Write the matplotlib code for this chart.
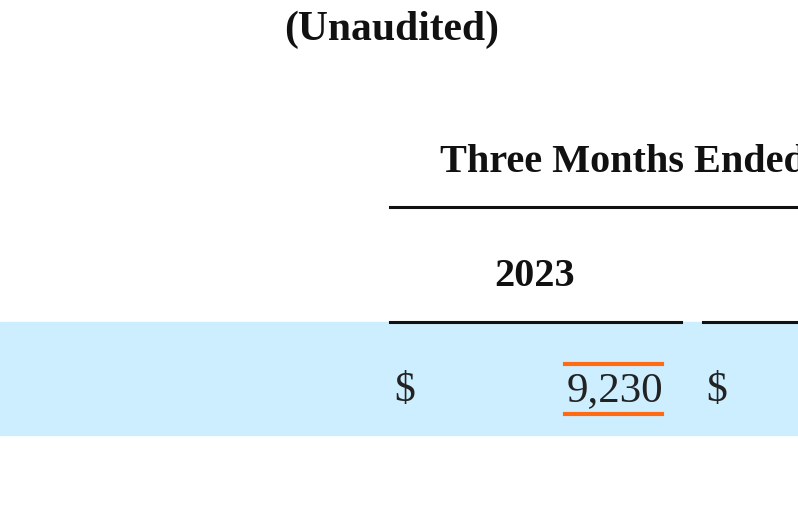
import matplotlib.pyplot as plt

title = "(Unaudited)"
period = "Three Months Ended"
years = ["2023"]
values = ["9,230"]

fig = plt.figure(figsize=(7.98, 5.25), dpi=100)
ax = fig.add_axes([0, 0, 1, 1])
ax.set_xlim(0, 798)
ax.set_ylim(525, 0)
ax.axis("off")

serif = ["Liberation Serif", "DejaVu Serif"]

# blue highlight row
ax.axhspan(322, 435, color="#cdeeff", zorder=0)

ax.text(392, 30, title, ha="center", va="center", fontsize=30, fontweight="bold", family=serif, color="#111111")
ax.text(440, 162, period, ha="left", va="center", fontsize=29, fontweight="bold", family=serif, color="#111111")
ax.plot([390, 798], [207, 207], color="#111111", lw=2.2)

ax.text(535, 277, years[0], ha="center", va="center", fontsize=29, fontweight="bold", family=serif, color="#111111")
ax.plot([390, 681], [322, 322], color="#111111", lw=2.2)
ax.plot([703, 798], [322, 322], color="#111111", lw=2.2)

ax.text(405, 391, "$", ha="center", va="center", fontsize=30, family=serif, color="#222222")
ax.text(663, 391, values[0], ha="right", va="center", fontsize=31, family=serif, color="#222222")
ax.text(717, 391, "$", ha="center", va="center", fontsize=30, family=serif, color="#222222")

# orange marks above / below the value
ax.plot([565, 662], [364, 364], color="#ff6a13", lw=3)
ax.plot([565, 662], [414, 414], color="#ff6a13", lw=3)

fig.savefig("out.png", dpi=100)
